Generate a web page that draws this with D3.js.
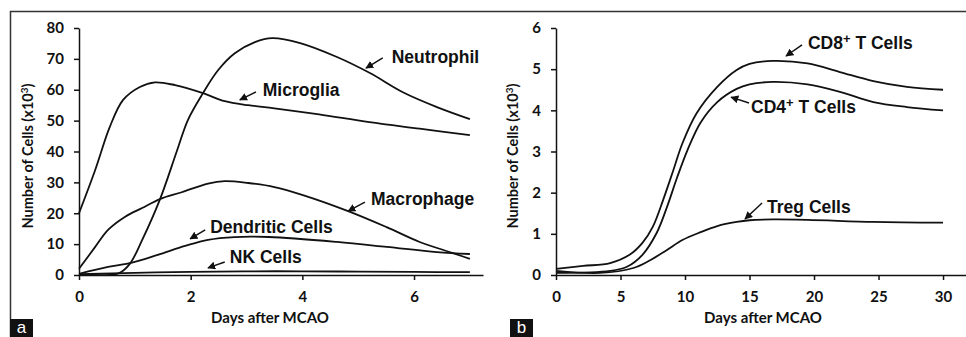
<!DOCTYPE html>
<html><head><meta charset="utf-8">
<script src="https://cdn.jsdelivr.net/npm/d3@7"></script>
<style>
body{margin:0;background:#fff;}
svg{display:block;}
.tick text{font-family:Lato,"Open Sans",sans-serif;font-weight:700;font-size:15px;fill:#111;}
.ttl{font-family:Lato,"Open Sans",sans-serif;font-weight:700;font-size:15px;fill:#111;}
.ann{font-family:"Liberation Sans",Arial,sans-serif;font-weight:700;font-size:17.5px;fill:#111;}
</style>
</head><body>
<svg id="c" width="966" height="337"></svg>
<script>
// ---------- Panel a data ----------
const ticksA_x = [0, 2, 4, 6];
const ticksA_y = [0, 10, 20, 30, 40, 50, 60, 70, 80];
const microgliaDays  = [0, 0.29, 0.55, 0.79, 1.09, 1.36, 1.72, 2.22, 2.61, 3.03, 3.5, 4.3, 5.2, 6.1, 7];
const microgliaCells = [20, 34, 47.9, 56.7, 60.9, 62.4, 61.5, 58.9, 56.3, 55, 54, 52, 49.5, 47.4, 45.3];
const neutrophilDays  = [0, 0.3, 0.55, 0.72, 0.91, 1.13, 1.45, 1.75, 1.95, 2.22, 2.49, 2.79, 3.15, 3.46, 3.96, 4.62, 5.21, 5.8, 6.41, 7];
const neutrophilCells = [0, 0, 0, 0.6, 3.6, 11.3, 24.5, 40, 50.2, 58.9, 66.3, 71.8, 75.4, 76.7, 75.1, 70.6, 65.4, 59.2, 54.4, 50.5];
const macrophageDays  = [0, 0.29, 0.52, 0.82, 1.13, 1.45, 1.84, 2.31, 2.61, 3.03, 3.5, 4.01, 4.82, 5.51, 6.1, 6.7, 7];
const macrophageCells = [2, 9.1, 14.6, 18.8, 21.7, 24.6, 26.8, 29.6, 30.4, 29.8, 28.5, 25.9, 20.7, 15.5, 10.7, 7.1, 5.2];
const dendriticDays  = [0, 0.52, 0.95, 1.41, 1.9, 2.31, 2.79, 3.4, 4.62, 5.51, 6.41, 7];
const dendriticCells = [0.4, 2.6, 4.0, 6.5, 9.4, 11.4, 12.3, 12.3, 10.7, 9.1, 7.4, 6.8];
const nkDays  = [0, 1, 2, 3, 4, 5, 6, 7];
const nkCells = [0.3, 0.7, 1.0, 1.2, 1.2, 1.1, 1.0, 0.9];

// ---------- Panel b data ----------
const ticksB_x = [0, 5, 10, 15, 20, 25, 30];
const ticksB_y = [0, 1, 2, 3, 4, 5, 6];
const cd8Days  = [0, 2.1, 4.2, 5.7, 6.7, 7.5, 8.3, 9.1, 9.8, 10.9, 12.5, 14, 15, 16.8, 19.5, 22, 24.6, 27.2, 30];
const cd8Cells = [0.15, 0.22, 0.29, 0.49, 0.78, 1.17, 1.82, 2.55, 3.2, 3.93, 4.57, 4.98, 5.13, 5.2, 5.14, 4.93, 4.71, 4.57, 4.5];
const cd4Days  = [0, 4.2, 5.5, 6.7, 7.8, 8.6, 9.4, 10.2, 11.2, 12.5, 14, 15, 16.8, 19.5, 22, 24.6, 27.2, 30];
const cd4Cells = [0.05, 0.1, 0.2, 0.49, 1.02, 1.65, 2.38, 3.04, 3.7, 4.2, 4.52, 4.63, 4.69, 4.63, 4.45, 4.2, 4.08, 4.0];
const tregDays  = [0, 3.4, 6, 7.3, 8.6, 9.8, 11.2, 12.5, 14, 15, 16.8, 19.5, 24.6, 30];
const tregCells = [0.1, 0.05, 0.17, 0.36, 0.61, 0.85, 1.04, 1.19, 1.29, 1.33, 1.35, 1.34, 1.29, 1.27];

// annotations: [label, textX, textY, tailX, tailY, headX, headY] in data units
const annA = [
  ["Neutrophil", 5.60, 68.7, 5.44, 70.3, 5.14, 67.0],
  ["Microglia", 3.29, 58.0, 3.17, 59.3, 2.88, 56.7],
  ["Macrophage", 5.23, 22.7, 5.12, 23.6, 4.82, 20.7],
  ["Dendritic Cells", 2.35, 13.6, 2.26, 14.6, 1.99, 11.7],
  ["NK Cells", 2.70, 3.9, 2.61, 4.2, 2.31, 2.3]
];
const annB = [
  ["CD8|+| T Cells", 19.53, 5.49, 19.07, 5.59, 17.83, 5.32],
  ["CD4|+| T Cells", 15.12, 3.93, 14.96, 4.18, 13.57, 4.32],
  ["Treg Cells", 16.36, 1.51, 15.97, 1.75, 14.65, 1.36]
];

const svg = d3.select("#c");
const defs = svg.append("defs");
defs.append("marker").attr("id","ah").attr("viewBox","0 0 10 10").attr("refX",9).attr("refY",5)
  .attr("markerWidth",8).attr("markerHeight",8).attr("markerUnits","userSpaceOnUse").attr("orient","auto")
  .append("path").attr("d","M0,0L10,5L0,10z").attr("fill","#111");

// frame
svg.append("path").attr("d","M10.5,337V11.5H966").attr("fill","none").attr("stroke","#333").attr("stroke-width",1.5);

function panel(cfg){
  const x = d3.scaleLinear().domain(cfg.xdom).range(cfg.xr);
  const y = d3.scaleLinear().domain(cfg.ydom).range([275, 28]);
  const g = svg.append("g");
  const ax = g.append("g").attr("transform","translate(0,275)")
    .call(d3.axisBottom(x).tickValues(cfg.xt).tickFormat(d3.format("d")).tickSize(5).tickSizeOuter(0).tickPadding(11));
  const ay = g.append("g").attr("transform",`translate(${cfg.xr[0]},0)`)
    .call(d3.axisLeft(y).tickValues(cfg.yt).tickFormat(d3.format("d")).tickSize(5).tickSizeOuter(0).tickPadding(10));
  [ax, ay].forEach(a => { a.select(".domain").attr("stroke","#111").attr("stroke-width",1.5);
    a.selectAll(".tick line").attr("stroke","#111").attr("stroke-width",1.5); });
  const line = d3.line().x(d=>x(d[0])).y(d=>y(d[1])).curve(d3.curveCatmullRom.alpha(0.5));
  cfg.series.forEach(s => {
    g.append("path").datum(d3.zip(s[0], s[1])).attr("d", line)
      .attr("fill","none").attr("stroke","#111").attr("stroke-width",1.8);
  });
  cfg.ann.forEach(a => {
    g.append("line").attr("x1",x(a[3])).attr("y1",y(a[4])).attr("x2",x(a[5])).attr("y2",y(a[6]))
      .attr("stroke","#111").attr("stroke-width",1.5).attr("marker-end","url(#ah)");
    const t = g.append("text").attr("class","ann").attr("x",x(a[1])).attr("y",y(a[2]));
    const parts = a[0].split("|");
    parts.forEach((p,i) => {
      const ts = t.append("tspan").text(p);
      if (i===1) ts.attr("dy",-6).style("font-size","13px");
      if (i===2) ts.attr("dy",6);
    });
  });
  // axis titles
  g.append("text").attr("class","ttl").attr("x",cfg.xtx).attr("y",323).attr("text-anchor","middle").text("Days after MCAO");
  const yt = g.append("text").attr("class","ttl").style("font-size","14.5px").attr("transform",`translate(${cfg.ytx},156) rotate(-90)`).attr("text-anchor","middle");
  yt.append("tspan").text("Number of Cells (x10");
  yt.append("tspan").text("3").attr("dy",-5).style("font-size","10px");
  yt.append("tspan").text(")").attr("dy",5);
  // panel letter
  g.append("rect").attr("x",cfg.lx).attr("y",319).attr("width",23).attr("height",18).attr("fill","#111");
  g.append("text").attr("x",cfg.lx+11.5).attr("y",333).attr("text-anchor","middle")
    .style("font-family","'Liberation Sans',Arial,sans-serif").style("font-size","17px").attr("fill","#fff").text(cfg.letter);
}

panel({xdom:[0,7.235], xr:[79,483], ydom:[0,80], xt:ticksA_x, yt:ticksA_y,
  series:[[microgliaDays,microgliaCells],[neutrophilDays,neutrophilCells],[macrophageDays,macrophageCells],[dendriticDays,dendriticCells],[nkDays,nkCells]],
  ann:annA, xtx:270, ytx:33, lx:10, letter:"a"});
panel({xdom:[0,31.78], xr:[556,966], ydom:[0,6], xt:ticksB_x, yt:ticksB_y,
  series:[[cd8Days,cd8Cells],[cd4Days,cd4Cells],[tregDays,tregCells]],
  ann:annB, xtx:763, ytx:518, lx:510, letter:"b"});
</script>
</body></html>
